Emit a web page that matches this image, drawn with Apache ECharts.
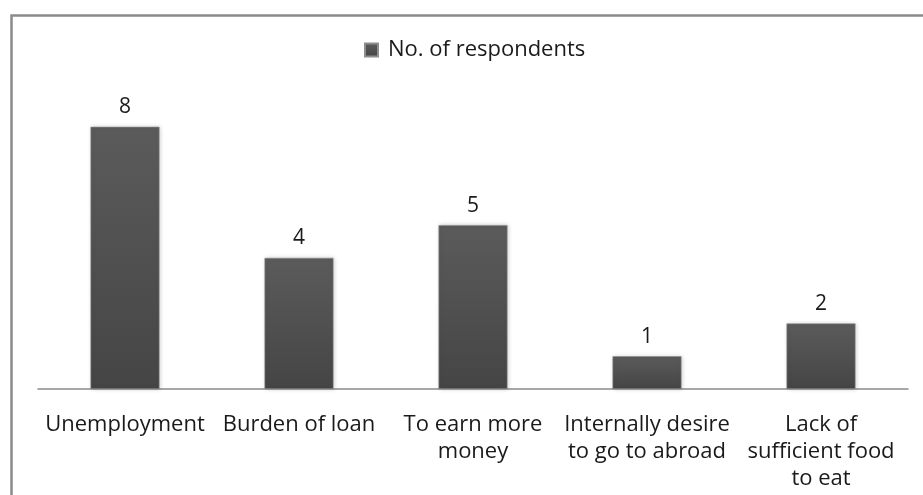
<!DOCTYPE html>
<html>
<head>
<meta charset="utf-8">
<script src="https://cdn.jsdelivr.net/npm/echarts@6/dist/echarts.min.js"></script>
<style>
  html, body { margin: 0; padding: 0; background: #ffffff; }
  #chart { width: 923px; height: 495px; }
</style>
</head>
<body>
<div id="chart"></div>
<script>
// Reasons reported for migration
const categories = [
  'Unemployment',
  'Burden of loan',
  'To earn more\nmoney',
  'Internally desire\nto go to abroad',
  'Lack of\nsufficient food\nto eat'
];
const seriesName = 'No. of respondents';
const respondents = [8, 4, 5, 1, 2];

const chart = echarts.init(document.getElementById('chart'), null, { renderer: 'canvas' });
const fontFamily = '"Open Sans", "Noto Sans", sans-serif';

chart.setOption({
  animation: false,
  backgroundColor: '#ffffff',
  graphic: [{
    type: 'rect',
    left: 9,
    top: 13,
    shape: { width: 940, height: 520 },
    style: { fill: 'none', stroke: '#8a8a8a', lineWidth: 2.5 },
    silent: true
  }],
  legend: {
    data: [seriesName],
    top: 34,
    left: 359,
    itemWidth: 13,
    itemHeight: 13,
    icon: 'rect',
    textStyle: {
      fontFamily: fontFamily,
      fontSize: 22,
      color: '#1a1a1a',
      padding: [0, 0, 0, 5]
    }
  },
  grid: { left: 38, right: 15, top: 94, bottom: 106, containLabel: false },
  xAxis: {
    type: 'category',
    data: categories,
    axisLine: { lineStyle: { color: '#8a8a8a', width: 1.5 } },
    axisTick: { show: false },
    axisLabel: {
      interval: 0,
      margin: 22,
      fontFamily: fontFamily,
      fontSize: 22,
      lineHeight: 27,
      color: '#1a1a1a'
    }
  },
  yAxis: {
    type: 'value',
    min: 0,
    max: 9,
    show: false,
    splitLine: { show: false }
  },
  series: [{
    name: seriesName,
    type: 'bar',
    data: respondents,
    barWidth: 69,
    itemStyle: {
      color: new echarts.graphic.LinearGradient(0, 0, 0, 1, [
        { offset: 0, color: '#5b5b5b' },
        { offset: 1, color: '#454545' }
      ]),
      borderColor: '#8e8e8e',
      borderWidth: 0.6,
      shadowColor: 'rgba(0,0,0,0.18)',
      shadowBlur: 4,
      shadowOffsetX: 1
    },
    label: {
      show: true,
      position: 'top',
      distance: 9,
      fontFamily: fontFamily,
      fontSize: 21,
      color: '#1a1a1a'
    }
  }]
});
</script>
</body>
</html>
